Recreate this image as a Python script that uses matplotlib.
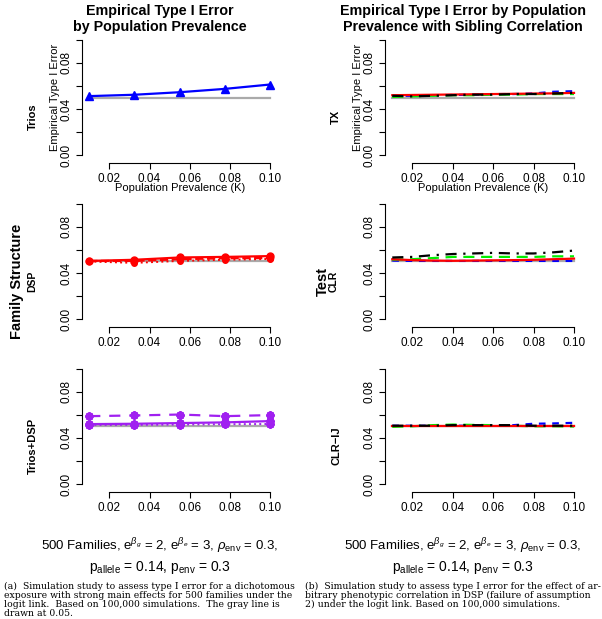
import numpy as np
import matplotlib
matplotlib.use('Agg')
import matplotlib.pyplot as plt

plt.rcParams['font.family'] = ['Liberation Sans', 'DejaVu Sans']
plt.rcParams['mathtext.fontset'] = 'custom'
plt.rcParams['mathtext.rm'] = 'Liberation Sans'
plt.rcParams['mathtext.it'] = 'Liberation Sans:italic'

# --- Data ---
prev5 = [0.01, 0.0325, 0.055, 0.0775, 0.10]
prev10 = [0.01, 0.02, 0.03, 0.04, 0.05, 0.06, 0.07, 0.08, 0.09, 0.10]

trios = [0.0512, 0.0524, 0.0546, 0.0575, 0.0613]

dsp_solid = [0.0505, 0.0515, 0.0535, 0.0540, 0.0547]
dsp_dashed = [0.0505, 0.0505, 0.0520, 0.0528, 0.0530]
dsp_dotted = [0.0500, 0.0488, 0.0505, 0.0515, 0.0522]

td_dashed = [0.0588, 0.0594, 0.0602, 0.0588, 0.0597]
td_solid = [0.0519, 0.0522, 0.0528, 0.0534, 0.0545]
td_dotted = [0.0512, 0.0512, 0.0515, 0.0518, 0.0520]

tx_red = [0.0520, 0.0522, 0.0524, 0.0526, 0.0528, 0.0530, 0.0532, 0.0534, 0.0536, 0.0540]
tx_green = [0.0505, 0.0510, 0.0515, 0.0520, 0.0520, 0.0525, 0.0525, 0.0530, 0.0530, 0.0530]
tx_blue = [0.0515, 0.0515, 0.0520, 0.0522, 0.0525, 0.0530, 0.0530, 0.0535, 0.0550, 0.0555]
tx_black = [0.0515, 0.0510, 0.0515, 0.0520, 0.0525, 0.0525, 0.0530, 0.0530, 0.0535, 0.0540]

clr_red = [0.0520, 0.0512, 0.0508, 0.0506, 0.0508, 0.0510, 0.0512, 0.0515, 0.0520, 0.0525]
clr_green = [0.0515, 0.0520, 0.0530, 0.0540, 0.0540, 0.0540, 0.0540, 0.0540, 0.0545, 0.0545]
clr_blue = [0.0508, 0.0505, 0.0505, 0.0505, 0.0505, 0.0505, 0.0505, 0.0505, 0.0505, 0.0505]
clr_black = [0.0535, 0.0540, 0.0555, 0.0565, 0.0570, 0.0575, 0.0570, 0.0570, 0.0580, 0.0595]

ij_red = [0.0502, 0.0502, 0.0502, 0.0502, 0.0502, 0.0502, 0.0502, 0.0502, 0.0502, 0.0502]
ij_green = [0.0495, 0.0500, 0.0510, 0.0515, 0.0512, 0.0510, 0.0505, 0.0500, 0.0500, 0.0498]
ij_blue = [0.0505, 0.0505, 0.0505, 0.0505, 0.0505, 0.0505, 0.0510, 0.0522, 0.0525, 0.0530]
ij_black = [0.0505, 0.0505, 0.0505, 0.0510, 0.0510, 0.0510, 0.0510, 0.0505, 0.0505, 0.0505]

gray_level = 0.05
xticks = [0.02, 0.04, 0.06, 0.08, 0.10]
yticks = [0.00, 0.02, 0.04, 0.06, 0.08, 0.10]
ylabels = ['0.00', '', '0.04', '', '0.08', '']

W, H = 602, 619
fig = plt.figure(figsize=(W / 100, H / 100), dpi=100)

def box(x0, x1, y0, y1):
    return [x0 / W, 1 - y1 / H, (x1 - x0) / W, (y1 - y0) / H]

col_x = [(82, 277.4), (385, 581.3)]
row_y = [(35.4, 159.6), (199.4, 323.6), (364, 488.6)]

def make_ax(r, c):
    ax = fig.add_axes(box(col_x[c][0], col_x[c][1], row_y[r][0], row_y[r][1]))
    ax.set_xlim(0.0064, 0.1036)
    ax.set_ylim(-0.004, 0.104)
    for s in ['top', 'right']:
        ax.spines[s].set_visible(False)
    ax.spines['left'].set_bounds(0, 0.10)
    ax.spines['bottom'].set_bounds(0.02, 0.10)
    ax.spines['bottom'].set_position(('outward', 2.5))
    ax.set_xticks(xticks)
    ax.set_xticklabels(['%.2f' % t for t in xticks])
    ax.set_yticks(yticks)
    ax.set_yticklabels(ylabels, rotation=90, va='center')
    ax.tick_params(direction='out', length=4, labelsize=8.5, pad=3, width=0.8)
    for s in ['left', 'bottom']:
        ax.spines[s].set_linewidth(0.8)
    ax.axhline(gray_level, xmin=(0.01 - 0.0064) / 0.0972, xmax=(0.10 - 0.0064) / 0.0972,
               color='#aaaaaa', lw=1.6, zorder=1)
    return ax

# Left column
ax = make_ax(0, 0)
ax.plot(prev5, trios, color='blue', lw=1.6, marker='^', ms=5.5)
ax.set_ylabel('Empirical Type I Error', fontsize=8, labelpad=0)
ax.set_xlabel('Population Prevalence (K)', fontsize=8, labelpad=-1)

ax = make_ax(1, 0)
ax.plot(prev5, dsp_dotted, color='red', lw=1.4, ls=':', marker='o', ms=4)
ax.plot(prev5, dsp_dashed, color='red', lw=1.6, ls='--', marker='o', ms=4.5)
ax.plot(prev5, dsp_solid, color='red', lw=1.6, marker='o', ms=5)

ax = make_ax(2, 0)
star = (8, 2, 0)
ax.plot(prev5, td_dotted, color='#a020f0', lw=1.4, ls=':', marker=star, ms=6, mew=1.6)
ax.plot(prev5, td_solid, color='#a020f0', lw=1.6, marker=star, ms=6, mew=1.6)
ax.plot(prev5, td_dashed, color='#a020f0', lw=1.6, ls=(0, (5, 4)), marker=star, ms=6, mew=1.6)

# Right column
right_sets = [
    (tx_red, tx_green, tx_blue, tx_black),
    (clr_red, clr_green, clr_blue, clr_black),
    (ij_red, ij_green, ij_blue, ij_black),
]
for r, (red, green, blue, black) in enumerate(right_sets):
    ax = make_ax(r, 1)
    ax.plot(prev10, blue, color='blue', lw=1.6, ls=(0, (3, 3)))
    ax.plot(prev10, green, color='#00ee00', lw=1.6, ls=(0, (5, 3)))
    ax.plot(prev10, red, color='red', lw=1.6)
    ax.plot(prev10, black, color='black', lw=1.6, ls=(0, (5, 3, 1, 3)))
    if r == 0:
        ax.set_ylabel('Empirical Type I Error', fontsize=8, labelpad=0)
        ax.set_xlabel('Population Prevalence (K)', fontsize=8, labelpad=-1)

# Titles
def ftext(x, y, s, **kw):
    fig.text(x / W, 1 - y / H, s, **kw)

ftext(160, 19, 'Empirical Type I Error\nby Population Prevalence', ha='center', va='center',
      fontsize=10.3, fontweight='bold', linespacing=1.1)
ftext(463, 19, 'Empirical Type I Error by Population\nPrevalence with Sibling Correlation', ha='center',
      va='center', fontsize=10.3, fontweight='bold', linespacing=1.1)

# Row labels
ftext(33, 117, 'Trios', rotation=90, ha='center', va='center', fontsize=8, fontweight='bold')
ftext(17, 281, 'Family Structure', rotation=90, ha='center', va='center', fontsize=10.5, fontweight='bold')
ftext(32, 281, 'DSP', rotation=90, ha='center', va='center', fontsize=7.5, fontweight='bold')
ftext(33, 446, 'Trios+DSP', rotation=90, ha='center', va='center', fontsize=8, fontweight='bold')
ftext(336, 117, 'TX', rotation=90, ha='center', va='center', fontsize=8, fontweight='bold')
ftext(323, 281, 'Test', rotation=90, ha='center', va='center', fontsize=10.5, fontweight='bold')
ftext(334, 281, 'CLR', rotation=90, ha='center', va='center', fontsize=7.5, fontweight='bold')
ftext(336, 446, 'CLR\u2212IJ', rotation=90, ha='center', va='center', fontsize=8, fontweight='bold')

# Parameter text
line1 = r'500 Families, e$^{\beta_g}$ = 2, e$^{\beta_e}$ = 3, $\rho_\mathrm{env}$ = 0.3,'
line2 = r'p$_\mathrm{allele}$ = 0.14, p$_\mathrm{env}$ = 0.3'
for cx in [160, 463]:
    ftext(cx, 546, line1, ha='center', va='center', fontsize=9.5)
    ftext(cx, 567, line2, ha='center', va='center', fontsize=10)

# Captions
cap_a = ['(a)  Simulation study to assess type I error for a dichotomous',
         'exposure with strong main effects for 500 families under the',
         'logit link.  Based on 100,000 simulations.  The gray line is',
         'drawn at 0.05.']
cap_b = ['(b)  Simulation study to assess type I error for the effect of ar-',
         'bitrary phenotypic correlation in DSP (failure of assumption',
         '2) under the logit link. Based on 100,000 simulations.']
for i, s in enumerate(cap_a):
    ftext(4, 586 + i * 9.3, s, ha='left', va='center', fontsize=6.7, family='DejaVu Serif')
for i, s in enumerate(cap_b):
    ftext(305, 586 + i * 9.3, s, ha='left', va='center', fontsize=6.7, family='DejaVu Serif')

fig.savefig('out.png', dpi=100)
